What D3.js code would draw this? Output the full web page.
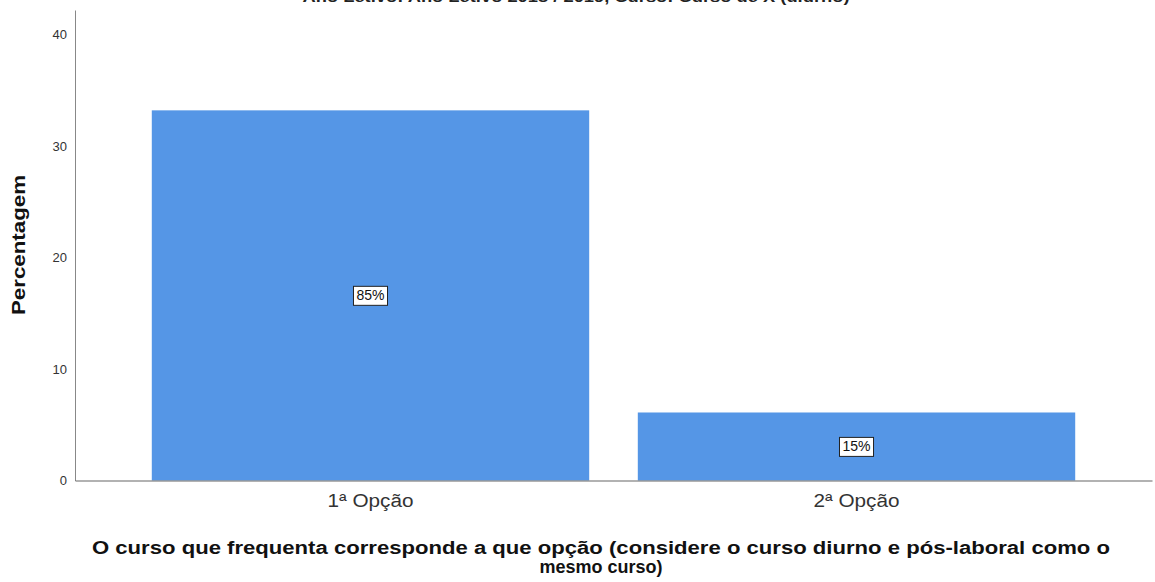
<!DOCTYPE html>
<html>
<head>
<meta charset="utf-8">
<script src="https://cdn.jsdelivr.net/npm/d3@7"></script>
<style>
  body { margin: 0; background: #fff; }
  text { font-family: "Liberation Sans", Arial, sans-serif; }
</style>
</head>
<body>
<div id="chart"></div>
<script>
var categories = ["1ª Opção", "2ª Opção"];
var values = [33.2, 6.1];
var pctLabels = ["85%", "15%"];
var yTicks = [0, 10, 20, 30, 40];
var title = "Ano Letivo: Ano Letivo 2018 / 2019, Curso: Curso de X (diurno)";
var xTitleLines = [
  "O curso que frequenta corresponde a que opção (considere o curso diurno e pós-laboral como o",
  "mesmo curso)"
];

var width = 1155,
  height = 582;

var svg = d3.select("#chart").append("svg")
  .attr("width", width)
  .attr("height", height)

var xScale = d3.scaleBand().domain(categories).range([75, 1152])
  .paddingInner(0.1).paddingOuter(0.158);
var yScale = d3.scaleLinear().domain([0, 42.2]).range([480.5, 10]);

// cut-off title at the top
svg.append("text")
  .attr("x", 576).attr("y", 2)
  .attr("text-anchor", "middle")
  .attr("textLength", 547).attr("lengthAdjust", "spacingAndGlyphs")
  .style("font-size", "14px").style("font-weight", "bold")
  .attr("fill", "#222")
  .text(title);

// bars
svg.selectAll("rect.bar").data(values).enter().append("rect")
  .attr("class", "bar")
  .attr("x", (d, i) => xScale(categories[i]))
  .attr("width", xScale.bandwidth())
  .attr("y", d => yScale(d))
  .attr("height", d => yScale(0) - yScale(d))
  .attr("fill", "#5596e6");

// y axis
var yAxis = svg.append("g")
  .attr("transform", "translate(75,0)")
  .call(d3.axisLeft(yScale).tickValues(yTicks).tickSize(0).tickPadding(8));
yAxis.select(".domain").attr("stroke", "#888");
yAxis.selectAll("text").style("font-size", "13px").attr("fill", "#333");

// x axis
var xAxis = svg.append("g")
  .attr("transform", "translate(0," + yScale(0) + ")")
  .call(d3.axisBottom(xScale).tickSize(0).tickPadding(14));
xAxis.select(".domain").attr("stroke", "#666").attr("stroke-width", 1.2);
xAxis.selectAll("text").style("font-size", "18px").attr("fill", "#333")
  .attr("textLength", 86).attr("lengthAdjust", "spacingAndGlyphs");

// value labels
values.forEach(function (v, i) {
  var cx = xScale(categories[i]) + xScale.bandwidth() / 2;
  var cy = (yScale(v) + yScale(0)) / 2;
  var g = svg.append("g").attr("transform", "translate(" + cx + "," + cy + ")");
  var t = g.append("text")
    .attr("text-anchor", "middle").attr("dy", "0.35em")
    .style("font-size", "14px").attr("fill", "#111")
    .text(pctLabels[i]);
  var bb = t.node().getBBox();
  g.insert("rect", "text")
    .attr("x", bb.x - 3).attr("y", bb.y - 1)
    .attr("width", bb.width + 6).attr("height", bb.height + 3)
    .attr("fill", "#fff").attr("stroke", "#222").attr("stroke-width", 1);
});

// axis titles
svg.append("text")
  .attr("transform", "translate(25,245) rotate(-90)")
  .attr("text-anchor", "middle")
  .attr("textLength", 140).attr("lengthAdjust", "spacingAndGlyphs")
  .style("font-size", "18px").style("font-weight", "bold")
  .attr("fill", "#111")
  .text("Percentagem");

svg.append("text")
  .attr("x", 601).attr("y", 554)
  .attr("text-anchor", "middle")
  .attr("textLength", 1018).attr("lengthAdjust", "spacingAndGlyphs")
  .style("font-size", "18px").style("font-weight", "bold")
  .attr("fill", "#111")
  .text(xTitleLines[0]);
svg.append("text")
  .attr("x", 601).attr("y", 573)
  .attr("text-anchor", "middle")
  .style("font-size", "18px").style("font-weight", "bold")
  .attr("fill", "#111")
  .text(xTitleLines[1]);
</script>
</body>
</html>
